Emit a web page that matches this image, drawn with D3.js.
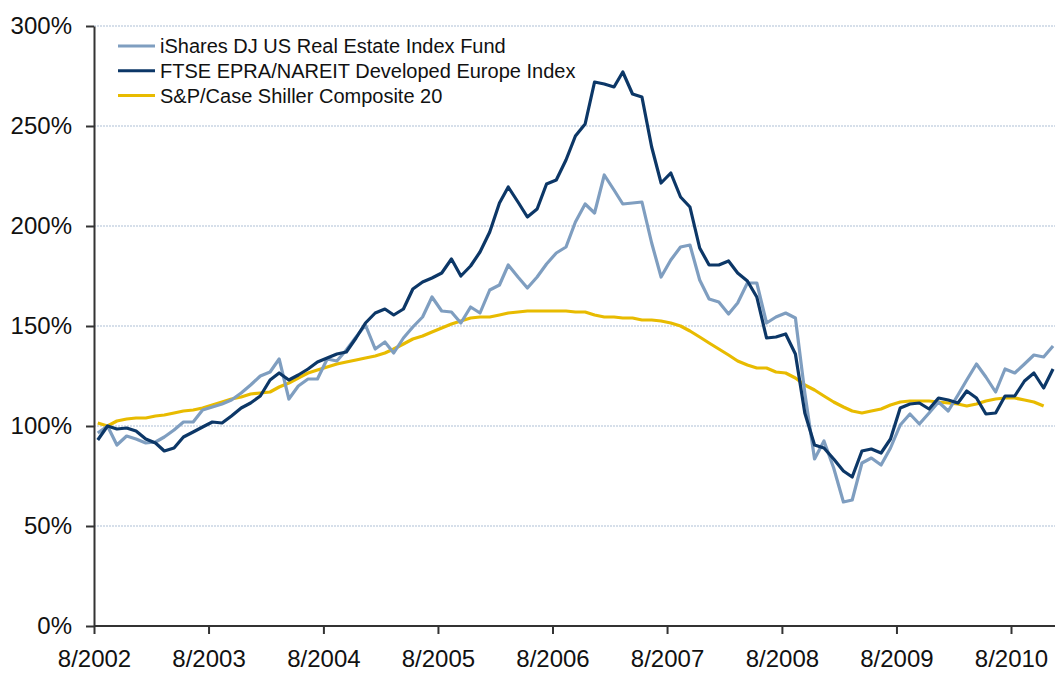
<!DOCTYPE html>
<meta charset="utf-8">
<head>
<style>
  body { margin: 0; background: #fff; }
  svg { display: block; font-family: Arial, "Liberation Sans", sans-serif; }
  .grid line { stroke: #c9d5e4; stroke-width: 1.3; stroke-dasharray: 2,1; }
  .axis path, .axis line { stroke: #333; stroke-width: 2; }
  .axis text { font-size: 24px; fill: #111; }
  .legend text { font-size: 20px; fill: #111; }
</style>
</head>
<body>
<svg id="chart" width="1055" height="673"></svg>
<script src="https://cdn.jsdelivr.net/npm/d3@7"></script>
<script>

// monthly values, first month = 8/2002 (rebased to 100%)
var ishares = [96.5,100,90.5,95,93.5,91.5,92,94.5,98,102,102,108,109.5,111,113,116.5,120.5,125,127,133.5,
  113.5,120,123.5,123.5,133.5,132.5,138,144.5,150.5,138.5,142,136.5,144,149.5,154.5,164.5,157.5,157,151.5,159.5,
  156.5,168,170.5,180.5,174.5,169,174.5,181,186.5,189.5,202,211,206.5,225.5,218,211,211.5,212,191.5,174.5,
  183,189.5,190.5,173,163.5,162,156,161.5,171.5,171.5,151.5,154.5,156.5,154,116.5,83.5,92.5,79,62,63,
  81.5,84,80.5,89,100.5,106,101,106.5,112,107.5,115.5,123,131,124.5,117,128.5,126.5,131,135.5,134.5,140];

var ftse = [93,100,98.5,99,97.5,93.5,91.5,87.5,89,94.5,97,99.5,102,101.5,105,109,111.5,115,123,126.5,
  123,125.5,128.5,132,134,136,137,144,151.5,156.5,158.5,155.5,158.5,168.5,172,174,176.5,183.5,175,180,
  187,197,211.5,219.5,212,204.5,208.5,221,223,233,245,251,272,271,269.5,277,266,264.5,239.5,221.5,
  226.5,214.5,209.5,189,180.5,180.5,182.5,176.5,172.5,164.5,144,144.5,146,136,106.5,90.5,89,83.5,77.5,74.5,
  87.5,88.5,86.5,93.5,109,111,111.5,108.5,114,113,111.5,117.5,114,106,106.5,115,115,122.5,126.5,119,128.5];

var caseShiller = [101.5,100,102.5,103.5,104,104,105,105.5,106.5,107.5,108,109,110.5,112,113.5,114.5,116,116.5,117,119.5,
  121.5,124,126.5,128,129.5,131,132,133,134,135,136.5,138.5,141,143.5,145,147,149,151,152.5,154,
  154.5,154.5,155.5,156.5,157,157.5,157.5,157.5,157.5,157.5,157,157,155.5,154.5,154.5,154,154,153,153,152.5,
  151.5,150,147.5,144.5,141.5,138.5,135.5,132.5,130.5,129,129,127,126.5,124,120.5,118,115,112,109.5,107.5,
  106.5,107.5,108.5,110.5,112,112.5,112.5,112.5,112,111.5,111,110,111,112.5,113.5,114,114,113,112,110];

var seriesNames = ["iShares DJ US Real Estate Index Fund", "FTSE EPRA/NAREIT Developed Europe Index", "S&P/Case Shiller Composite 20"];
var seriesColors = ["#7f9ec0", "#0c3767", "#e8bb00"];
var yTicks = [0, 50, 100, 150, 200, 250, 300];
var tickYears = [2002, 2003, 2004, 2005, 2006, 2007, 2008, 2009, 2010];

var svg = d3.select("#chart");
var plotLeft = 94, plotRight = 1011, plotTop = 26, plotBottom = 626, plotEnd = 1055;

// month i is dated mid-month; ticks sit on the first of August
function monthDate(i) { return new Date(2002, 7 + i, 13); }

var x = d3.scaleTime()
    .domain([new Date(2002, 7, 1), new Date(2010, 7, 1)])
    .range([plotLeft, plotRight]);

var y = d3.scaleLinear()
    .domain([0, 300])
    .range([plotBottom, plotTop]);

// gridlines
svg.append("g")
    .attr("class", "grid")
  .selectAll("line")
  .data(yTicks.filter(function(d){ return d > 0 }))
  .enter()
  .append("line")
    .attr("x1", plotLeft)
    .attr("x2", plotEnd)
    .attr("y1", function(d){ return y(d) })
    .attr("y2", function(d){ return y(d) });

// axes
svg.append("g")
    .attr("class", "axis")
    .attr("transform", "translate(0," + plotBottom + ")")
    .call(d3.axisBottom(x)
        .tickValues(tickYears.map(function(yr){ return new Date(yr, 7, 1) }))
        .tickFormat(d3.timeFormat("%-m/%Y"))
        .tickSize(8)
        .tickSizeOuter(0)
        .tickPadding(10))
  .call(function(g){ g.select(".domain").attr("d", "M" + plotLeft + ",0H" + plotEnd) })
  .selectAll("text")
    .attr("dy", "0.95em");

svg.append("g")
    .attr("class", "axis")
    .attr("transform", "translate(" + plotLeft + ",0)")
    .call(d3.axisLeft(y)
        .tickValues(yTicks)
        .tickFormat(function(d){ return d + "%" })
        .tickSize(8)
        .tickSizeOuter(0)
        .tickPadding(14));

// lines
var allSeries = [ishares, ftse, caseShiller];
var line = d3.line()
    .x(function(d, i){ return x(monthDate(i)) })
    .y(function(d){ return y(d) });

// draw Case-Shiller first, then iShares, then FTSE on top
[2, 0, 1].forEach(function(k){
  svg.append("path")
      .datum(allSeries[k])
      .attr("fill", "none")
      .attr("stroke", seriesColors[k])
      .attr("stroke-width", 3.2)
      .attr("stroke-linejoin", "round")
      .attr("d", line);
});

// legend
var legend = svg.append("g").attr("class", "legend");
seriesNames.forEach(function(name, k){
  var ly = 46 + k * 24.7;
  legend.append("line")
      .attr("x1", 118).attr("x2", 155)
      .attr("y1", ly).attr("y2", ly)
      .attr("stroke", seriesColors[k])
      .attr("stroke-width", 3);
  legend.append("text")
      .attr("x", 160)
      .attr("y", ly)
      .attr("dy", "0.36em")
      .text(name);
});

</script>
</body>
